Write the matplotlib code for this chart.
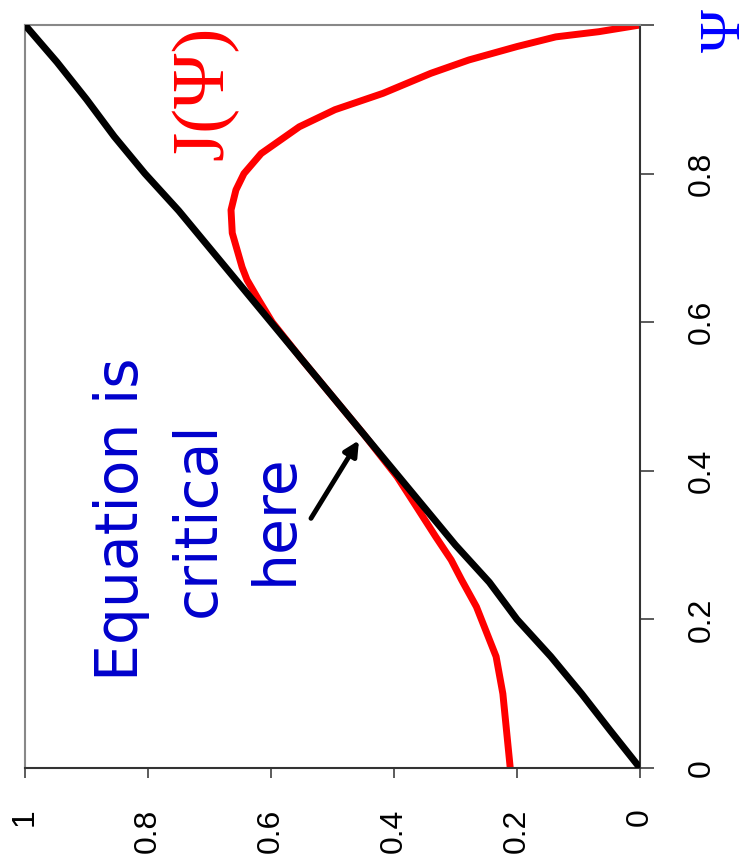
import matplotlib
matplotlib.use('Agg')
import matplotlib.pyplot as plt

# chart is drawn turned on its side: horizontal axis = J (reversed), vertical axis = Psi
psi_line = [0.0, 0.05, 0.10, 0.15, 0.20, 0.25, 0.30, 0.35, 0.40, 0.45, 0.50,
            0.55, 0.60, 0.65, 0.70, 0.75, 0.80, 0.85, 0.90, 0.95, 1.0]
j_line = [0.0, 0.048, 0.095, 0.145, 0.20, 0.245, 0.30, 0.35, 0.40, 0.45, 0.50,
          0.55, 0.60, 0.65, 0.70, 0.75, 0.805, 0.855, 0.90, 0.948, 1.0]

psi_red = [0.0, 0.10, 0.15, 0.217, 0.253, 0.28, 0.311, 0.351, 0.392, 0.45, 0.50,
           0.55, 0.60, 0.63, 0.657, 0.674, 0.72, 0.751, 0.778, 0.80, 0.827,
           0.863, 0.886, 0.908, 0.935, 0.953, 0.971, 0.984, 0.991, 1.0]
j_red = [0.211, 0.223, 0.234, 0.266, 0.29, 0.307, 0.332, 0.363, 0.395, 0.45, 0.50,
         0.55, 0.598, 0.62, 0.639, 0.647, 0.663, 0.665, 0.657, 0.644, 0.616,
         0.554, 0.496, 0.418, 0.34, 0.278, 0.20, 0.137, 0.067, 0.0]

ticks = [0, 0.2, 0.4, 0.6, 0.8, 1.0]
bottom_labels = ['0', '0.2', '0.4', '0.6', '0.8', '1']
right_labels = ['0', '0.2', '0.4', '0.6', '0.8', '']

fig = plt.figure(figsize=(7.51, 8.65), dpi=100)
ax = fig.add_axes([25 / 751, 97 / 865, 615 / 751, 743 / 865])

ax.plot(j_red, psi_red, color='#ff0000', lw=5, solid_capstyle='round', zorder=2)
ax.plot(j_line, psi_line, color='black', lw=5, solid_capstyle='round', zorder=3)

ax.set_xlim(1, 0)
ax.set_ylim(0, 1)

ax.set_xticks(ticks)
ax.set_xticklabels(bottom_labels, rotation=90, fontsize=23, family='Liberation Sans')
ax.yaxis.tick_right()
ax.set_yticks(ticks)
ax.set_yticklabels(right_labels, rotation=90, va='center', fontsize=23,
                   family='Liberation Sans')
ax.tick_params(axis='x', length=7, width=1.2, pad=22, color='#404040')
ax.tick_params(axis='y', length=10, width=1.2, pad=24, color='#404040')

ax.spines['left'].set_color('#888888')
ax.spines['top'].set_color('#888888')
ax.spines['right'].set_color('#333333')
ax.spines['bottom'].set_color('#333333')
for s in ax.spines.values():
    s.set_linewidth(1.5)

# arrow pointing at the touching point
ax.annotate('', xy=(0.457, 0.441), xytext=(0.535, 0.336),
            arrowprops=dict(arrowstyle='-|>', lw=3.5, color='black',
                            mutation_scale=22, shrinkA=0, shrinkB=0))

blue = '#0000cc'
lines = ['Equation is', 'critical', 'here']
xs = [121, 198, 275]
for txt, xp in zip(lines, xs):
    fig.text(xp / 751, 1 - 519 / 865, txt, rotation=90, ha='center', va='center',
             fontsize=42, color=blue, family='DejaVu Sans')

fig.text(205 / 751, 1 - 93 / 865, 'J(Ψ)', rotation=90, ha='center', va='center',
         fontsize=54, color='#ff0000', family='Liberation Serif')
fig.text(726 / 751, 1 - 30 / 865, 'Ψ', rotation=90, ha='center', va='center',
         fontsize=42, color='#0000ff', family='Liberation Serif')

fig.savefig('out.png', dpi=100)
